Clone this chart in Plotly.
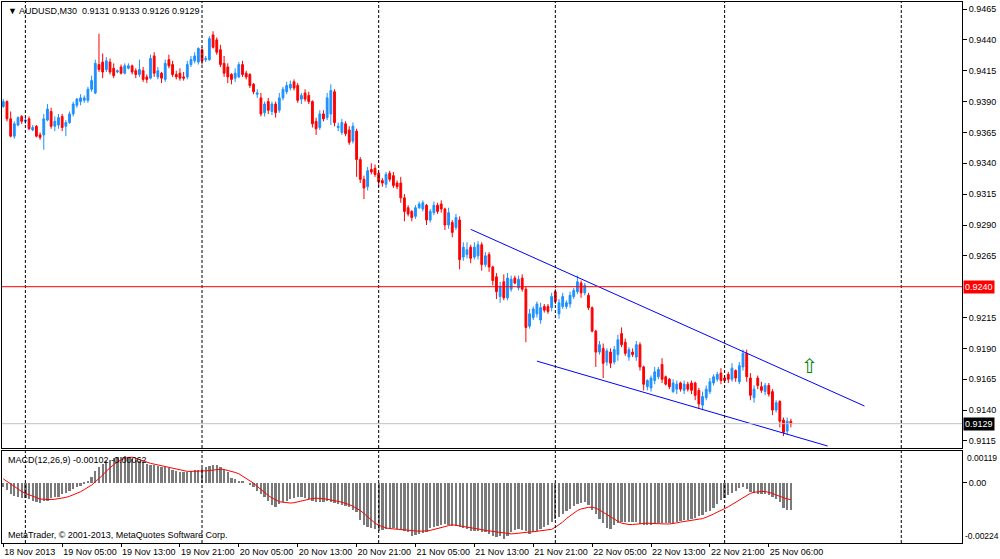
import plotly.graph_objects as go

# AUDUSD M30, one entry per bar from 18 Nov 2013 21:00 to 25 Nov 2013 09:00
# prices are kept in pips (9386 -> 0.9386)
open_pips = [
    9386, 9390, 9376, 9362, 9371, 9378, 9374, 9376, 9367, 9370,
    9363, 9363, 9375, 9382, 9370, 9371, 9378, 9370, 9373, 9380,
    9387, 9390, 9391, 9391, 9400, 9397, 9420, 9422, 9416, 9422,
    9417, 9414, 9418, 9413, 9417, 9419, 9415, 9412, 9415, 9410,
    9409, 9427, 9410, 9413, 9408, 9424, 9420, 9412, 9413, 9410,
    9410, 9420, 9423, 9422, 9432, 9424, 9424, 9444, 9440, 9432,
    9421, 9418, 9412, 9409, 9410, 9420, 9413, 9412, 9404, 9396,
    9393, 9381, 9390, 9382, 9388, 9383, 9393, 9398, 9401, 9406,
    9403, 9392, 9397, 9395, 9390, 9374, 9369, 9380, 9377, 9380,
    9398, 9369, 9365, 9372, 9367, 9358, 9366, 9343, 9327, 9321,
    9335, 9336, 9332, 9326, 9323, 9332, 9330, 9324, 9324, 9312,
    9304, 9301, 9297, 9304, 9303, 9306, 9294, 9300, 9306, 9307,
    9303, 9290, 9292, 9288, 9294, 9264, 9266, 9272, 9264, 9265,
    9274, 9258, 9266, 9256, 9248, 9232, 9244, 9231, 9238, 9247,
    9239, 9247, 9238, 9208, 9215, 9218, 9213, 9224, 9224, 9223,
    9236, 9218, 9224, 9224, 9226, 9232, 9236, 9243, 9235, 9233,
    9223, 9204, 9187, 9190, 9179, 9187, 9179, 9185, 9202, 9195,
    9183, 9187, 9183, 9193, 9175, 9159, 9158, 9164, 9167, 9177,
    9167, 9165, 9155, 9157, 9162, 9156, 9161, 9162, 9162, 9156,
    9144, 9150, 9155, 9162, 9165, 9170, 9166, 9169, 9165, 9172,
    9163, 9175, 9186, 9166, 9150, 9166, 9159, 9155, 9160, 9155,
    9140, 9147, 9132, 9123, 9131,
]
high_pips = [
    9392, 9391, 9382, 9374, 9378, 9379, 9378, 9378, 9371, 9371,
    9365, 9380, 9388, 9385, 9378, 9380, 9380, 9375, 9382, 9390,
    9393, 9396, 9395, 9402, 9411, 9424, 9445, 9429, 9426, 9425,
    9421, 9416, 9420, 9421, 9421, 9420, 9417, 9424, 9418, 9412,
    9428, 9430, 9418, 9414, 9424, 9428, 9423, 9415, 9417, 9414,
    9423, 9427, 9430, 9434, 9434, 9427, 9443, 9447, 9442, 9436,
    9427, 9421, 9413, 9417, 9422, 9423, 9415, 9413, 9405, 9400,
    9397, 9390, 9393, 9390, 9390, 9397, 9402, 9406, 9407, 9408,
    9405, 9397, 9400, 9398, 9391, 9377, 9383, 9383, 9397, 9404,
    9400, 9373, 9376, 9374, 9370, 9373, 9368, 9345, 9330, 9337,
    9340, 9339, 9333, 9328, 9333, 9334, 9333, 9326, 9329, 9315,
    9306, 9302, 9306, 9309, 9310, 9307, 9303, 9309, 9308, 9310,
    9304, 9304, 9294, 9299, 9297, 9276, 9276, 9274, 9276, 9277,
    9276, 9268, 9268, 9257, 9251, 9244, 9250, 9251, 9249, 9249,
    9249, 9250, 9240, 9222, 9224, 9228, 9227, 9226, 9226, 9235,
    9238, 9230, 9235, 9229, 9236, 9239, 9249, 9245, 9243, 9235,
    9224, 9205, 9196, 9194, 9190, 9190, 9192, 9201, 9207, 9198,
    9191, 9190, 9196, 9195, 9176, 9165, 9168, 9175, 9175, 9182,
    9168, 9166, 9165, 9164, 9163, 9164, 9163, 9164, 9163, 9158,
    9155, 9160, 9166, 9169, 9171, 9174, 9168, 9171, 9178, 9173,
    9179, 9189, 9189, 9170, 9160, 9168, 9163, 9162, 9162, 9157,
    9148, 9148, 9134, 9134, 9133,
]
low_pips = [
    9385, 9374, 9361, 9360, 9370, 9372, 9372, 9367, 9366, 9361,
    9359, 9351, 9374, 9368, 9366, 9368, 9366, 9362, 9372, 9378,
    9385, 9387, 9389, 9389, 9398, 9396, 9414, 9409, 9414, 9412,
    9409, 9413, 9412, 9412, 9416, 9412, 9409, 9410, 9406, 9405,
    9408, 9410, 9408, 9405, 9406, 9417, 9410, 9408, 9407, 9407,
    9408, 9418, 9421, 9420, 9420, 9422, 9423, 9433, 9428, 9418,
    9410, 9405, 9404, 9406, 9409, 9410, 9408, 9401, 9396, 9393,
    9378, 9378, 9380, 9379, 9377, 9381, 9391, 9396, 9399, 9399,
    9389, 9388, 9390, 9388, 9369, 9363, 9367, 9374, 9375, 9371,
    9370, 9366, 9363, 9362, 9355, 9356, 9329, 9324, 9311, 9318,
    9331, 9329, 9321, 9321, 9320, 9325, 9320, 9319, 9308, 9293,
    9297, 9293, 9295, 9303, 9301, 9290, 9292, 9298, 9299, 9300,
    9286, 9287, 9280, 9286, 9254, 9261, 9263, 9259, 9262, 9262,
    9253, 9256, 9252, 9241, 9230, 9227, 9229, 9229, 9236, 9242,
    9237, 9236, 9195, 9206, 9213, 9215, 9210, 9219, 9218, 9220,
    9226, 9214, 9222, 9222, 9223, 9230, 9234, 9231, 9233, 9221,
    9203, 9175, 9185, 9166, 9176, 9174, 9177, 9180, 9191, 9184,
    9180, 9183, 9180, 9172, 9156, 9156, 9155, 9161, 9165, 9162,
    9160, 9157, 9154, 9153, 9155, 9153, 9155, 9153, 9148, 9141,
    9140, 9148, 9153, 9160, 9163, 9161, 9162, 9162, 9163, 9163,
    9161, 9172, 9163, 9148, 9146, 9157, 9154, 9152, 9151, 9136,
    9138, 9126, 9119, 9120, 9126,
]
close_pips = [
    9390, 9376, 9362, 9372, 9377, 9374, 9375, 9368, 9369, 9362,
    9361, 9376, 9384, 9370, 9374, 9377, 9369, 9373, 9380, 9388,
    9392, 9393, 9393, 9400, 9407, 9421, 9416, 9414, 9423, 9414,
    9411, 9415, 9413, 9419, 9419, 9414, 9412, 9416, 9408, 9408,
    9425, 9413, 9415, 9409, 9421, 9419, 9412, 9410, 9409, 9409,
    9420, 9424, 9427, 9433, 9423, 9425, 9441, 9434, 9430, 9420,
    9413, 9410, 9408, 9413, 9420, 9412, 9410, 9403, 9398, 9397,
    9380, 9388, 9383, 9388, 9381, 9393, 9400, 9403, 9404, 9401,
    9391, 9395, 9392, 9390, 9372, 9368, 9380, 9376, 9393, 9399,
    9373, 9370, 9373, 9364, 9357, 9370, 9343, 9327, 9320, 9334,
    9333, 9331, 9325, 9324, 9331, 9327, 9322, 9321, 9312, 9301,
    9299, 9296, 9304, 9307, 9308, 9294, 9301, 9306, 9301, 9303,
    9290, 9300, 9284, 9296, 9262, 9272, 9270, 9263, 9272, 9274,
    9258, 9265, 9256, 9245, 9236, 9240, 9231, 9247, 9246, 9243,
    9246, 9238, 9207, 9218, 9222, 9226, 9223, 9221, 9220, 9232,
    9228, 9227, 9232, 9227, 9233, 9237, 9244, 9235, 9241, 9223,
    9204, 9187, 9193, 9178, 9188, 9178, 9189, 9197, 9193, 9186,
    9189, 9185, 9193, 9175, 9161, 9164, 9166, 9171, 9173, 9165,
    9161, 9159, 9162, 9161, 9157, 9161, 9157, 9156, 9152, 9145,
    9151, 9157, 9163, 9167, 9169, 9164, 9164, 9165, 9174, 9166,
    9176, 9186, 9167, 9152, 9157, 9160, 9156, 9160, 9153, 9140,
    9146, 9131, 9122, 9131, 9129,
]

# MACD(12,26,9), values in 1e-5
macd_hist = [
    -16, -28, -41, -47, -53, -55, -56, -61, -66, -70,
    -75, -68, -66, -56, -54, -51, -43, -36, -29, -22,
    -16, -10, -1, 9, 21, 43, 58, 71, 81, 87,
    92, 96, 98, 99, 97, 89, 85, 81, 76, 71,
    68, 65, 63, 61, 58, 54, 48, 44, 40, 40,
    40, 44, 47, 50, 54, 58, 63, 67, 67, 58,
    50, 40, 19, 14, 9, 5, 0, -8, -16, -29,
    -41, -53, -66, -84, -88, -80, -72, -66, -60, -56,
    -53, -53, -56, -60, -66, -72, -71, -70, -66, -70,
    -75, -78, -81, -86, -91, -100, -109, -140, -155, -163,
    -168, -172, -178, -175, -171, -170, -168, -171, -175, -180,
    -184, -196, -193, -190, -187, -184, -168, -163, -159, -156,
    -153, -156, -159, -161, -163, -168, -173, -178, -180, -180,
    -182, -184, -190, -196, -202, -196, -209, -196, -184, -175,
    -171, -175, -180, -190, -184, -178, -172, -166, -156, -145,
    -136, -126, -116, -106, -97, -86, -78, -74, -72, -84,
    -100, -116, -134, -150, -168, -171, -158, -150, -147, -145,
    -144, -145, -147, -152, -155, -158, -157, -153, -151, -150,
    -150, -150, -149, -147, -143, -140, -138, -134, -129, -124,
    -118, -110, -103, -92, -80, -64, -55, -45, -37, -29,
    -20, -16, -22, -33, -37, -41, -41, -41, -46, -51,
    -60, -72, -95, -100, -102,
]
macd_signal = [
    15, 5, -5, -14, -23, -32, -39, -45, -51, -56,
    -60, -61, -62, -62, -61, -59, -57, -54, -50, -45,
    -40, -33, -25, -17, -8, 4, 16, 29, 44, 57,
    68, 78, 86, 92, 95, 96, 92, 87, 82, 77,
    73, 70, 67, 64, 61, 58, 54, 50, 47, 44,
    43, 43, 43, 43, 44, 45, 46, 48, 50, 51,
    50, 47, 43, 39, 34, 26, 18, 9, -1, -13,
    -25, -37, -47, -56, -64, -70, -72, -74, -75, -74,
    -71, -67, -63, -60, -58, -57, -57, -59, -61, -63,
    -66, -69, -72, -76, -81, -87, -94, -103, -114, -127,
    -139, -150, -158, -164, -168, -170, -172, -173, -174, -175,
    -177, -178, -179, -180, -180, -179, -177, -174, -171, -167,
    -163, -159, -156, -158, -160, -163, -165, -167, -169, -171,
    -174, -177, -179, -181, -184, -186, -188, -189, -190, -189,
    -187, -185, -184, -183, -182, -180, -179, -178, -176, -173,
    -165, -156, -146, -133, -122, -111, -103, -97, -93, -91,
    -91, -94, -101, -110, -119, -128, -136, -143, -150, -153,
    -155, -155, -154, -152, -150, -150, -151, -152, -153, -153,
    -153, -153, -152, -149, -146, -144, -142, -140, -138, -137,
    -133, -128, -123, -116, -109, -101, -96, -89, -81, -72,
    -62, -54, -47, -39, -35, -33, -32, -32, -35, -39,
    -45, -50, -56, -60, -62,
]

tick_bars = [0, 16, 32, 48, 64, 80, 96, 112, 128, 144, 160, 176, 192, 208]
tick_labels = [
    "18 Nov 2013", "19 Nov 05:00", "19 Nov 13:00", "19 Nov 21:00", "20 Nov 05:00",
    "20 Nov 13:00", "20 Nov 21:00", "21 Nov 05:00", "21 Nov 13:00", "21 Nov 21:00",
    "22 Nov 05:00", "22 Nov 13:00", "22 Nov 21:00", "25 Nov 06:00",
]
separator_bars = [6, 54, 102, 150, 196, 244]
# 0.9240 is hidden under the level label on the price scale
price_ticks = [0.9115, 0.9140, 0.9165, 0.9190, 0.9215, 0.9265, 0.9290, 0.9315,
               0.9340, 0.9365, 0.9390, 0.9415, 0.9440, 0.9465]

level_price = 0.9240
bid_price = 0.9129
upper_channel_bars = [127, 234]
upper_channel_prices = [0.92865, 0.91433]
lower_channel_bars = [145, 224]
lower_channel_prices = [0.91797, 0.91109]
arrow_bar = [219]
arrow_price = [0.9174]

macd_top = 0.00119
macd_bottom = -0.00224

FONT = "Liberation Sans"
BLUE = "#1E90FF"
RED = "#FF0000"

bars = list(range(len(close_pips)))
fig = go.Figure()

fig.add_trace(go.Candlestick(
    x=bars,
    open=[v / 10000 for v in open_pips],
    high=[v / 10000 for v in high_pips],
    low=[v / 10000 for v in low_pips],
    close=[v / 10000 for v in close_pips],
    increasing={"line": {"color": BLUE, "width": 1}, "fillcolor": BLUE},
    decreasing={"line": {"color": RED, "width": 1}, "fillcolor": RED},
    xaxis="x", yaxis="y", hoverinfo="skip",
))
for bx, py in ((upper_channel_bars, upper_channel_prices), (lower_channel_bars, lower_channel_prices)):
    fig.add_trace(go.Scatter(x=bx, y=py, mode="lines", line={"color": "#0000FF", "width": 1},
                             xaxis="x", yaxis="y", hoverinfo="skip"))
fig.add_trace(go.Scatter(x=arrow_bar, y=arrow_price, mode="text", text=["⇧"],
                         textfont={"family": "DejaVu Sans", "size": 20, "color": "#008000"},
                         xaxis="x", yaxis="y", hoverinfo="skip"))

fig.add_trace(go.Bar(x=bars, y=[v * 1e-5 for v in macd_hist], width=0.62,
                     marker={"color": "#7a7a7a", "line": {"width": 0}},
                     xaxis="x2", yaxis="y2", hoverinfo="skip"))
fig.add_trace(go.Scatter(x=bars, y=[v * 1e-5 for v in macd_signal], mode="lines",
                         line={"color": RED, "width": 1}, xaxis="x2", yaxis="y2", hoverinfo="skip"))

shapes = []
for b in separator_bars:
    shapes.append(dict(type="line", xref="x", yref="paper", x0=b, x1=b, y0=0, y1=1,
                       line={"color": "black", "width": 1, "dash": "3px,2px"}))
shapes.append(dict(type="line", xref="paper", yref="y", x0=0, x1=1, y0=bid_price, y1=bid_price,
                   line={"color": "#C0C0C0", "width": 1}))
shapes.append(dict(type="line", xref="paper", yref="y", x0=0, x1=1, y0=level_price, y1=level_price,
                   line={"color": "#FF0000", "width": 1}, layer="above"))

annotations = [
    dict(xref="paper", yref="paper", x=0, y=1, xanchor="left", yanchor="top", xshift=4, yshift=-2,
         text="▼ AUDUSD,M30  0.9131 0.9133 0.9126 0.9129", showarrow=False,
         font={"family": FONT, "size": 9, "color": "black"}),
    dict(xref="paper", yref="y2 domain", x=0, y=1, xanchor="left", yanchor="top", xshift=4, yshift=-2,
         text="MACD(12,26,9) -0.00102 -0.00062", showarrow=False,
         font={"family": FONT, "size": 9, "color": "black"}),
    dict(xref="paper", yref="y2 domain", x=0, y=0, xanchor="left", yanchor="bottom", xshift=4, yshift=1,
         text="MetaTrader, © 2001-2013, MetaQuotes Software Corp.", showarrow=False,
         font={"family": FONT, "size": 9, "color": "black"}),
    dict(xref="paper", yref="y", x=1, y=level_price, xanchor="left", yanchor="middle", xshift=1,
         text="0.9240", showarrow=False, bgcolor=RED, borderpad=1,
         font={"family": FONT, "size": 9, "color": "white"}),
    dict(xref="paper", yref="y", x=1, y=bid_price, xanchor="left", yanchor="middle", xshift=1,
         text="0.9129", showarrow=False, bgcolor="black", borderpad=1,
         font={"family": FONT, "size": 9, "color": "white"}),
    dict(xref="paper", yref="y2", x=1, y=macd_top, xanchor="left", yanchor="top", xshift=3,
         text="0.00119", showarrow=False, font={"family": FONT, "size": 8.5, "color": "black"}),
    dict(xref="paper", yref="y2", x=1, y=macd_bottom, xanchor="left", yanchor="bottom", xshift=1,
         text="-0.00224", showarrow=False, font={"family": FONT, "size": 8.5, "color": "black"}),
]

x_range = [-0.35, 260.5]
axis_common = dict(showgrid=False, zeroline=False, showline=True, linecolor="black", linewidth=1,
                   mirror=True, tickfont={"family": FONT, "size": 9, "color": "black"})

fig.update_layout(
    width=1000, height=559,
    margin={"l": 2, "r": 38, "t": 2, "b": 16},
    paper_bgcolor="white", plot_bgcolor="white",
    showlegend=False, bargap=0,
    shapes=shapes, annotations=annotations,
    xaxis=dict(axis_common, domain=[0, 1], anchor="y", range=x_range, showticklabels=False,
               ticks="", rangeslider={"visible": False}),
    xaxis2=dict(axis_common, domain=[0, 1], anchor="y2", range=x_range, matches="x",
                tickmode="array", tickvals=tick_bars, ticktext=tick_labels, tickangle=0,
                ticks="outside", ticklen=3, tickcolor="black", ticklabelposition="outside right"),
    yaxis=dict(axis_common, domain=[0.1756, 1], anchor="x", side="right",
               range=[0.91093, 0.94707], tickmode="array", tickvals=price_ticks,
               ticktext=[f"{p:.4f}" for p in price_ticks],
               ticks="outside", ticklen=4, tickcolor="black"),
    yaxis2=dict(axis_common, domain=[0, 0.1701], anchor="x2", side="right",
                range=[macd_bottom, macd_top], tickmode="array", tickvals=[0], ticktext=["0.00"],
                ticks="outside", ticklen=4, tickcolor="black"),
)

fig.write_html("out.html", config={"displayModeBar": False},
               post_script="document.body.style.margin = '0px';")
